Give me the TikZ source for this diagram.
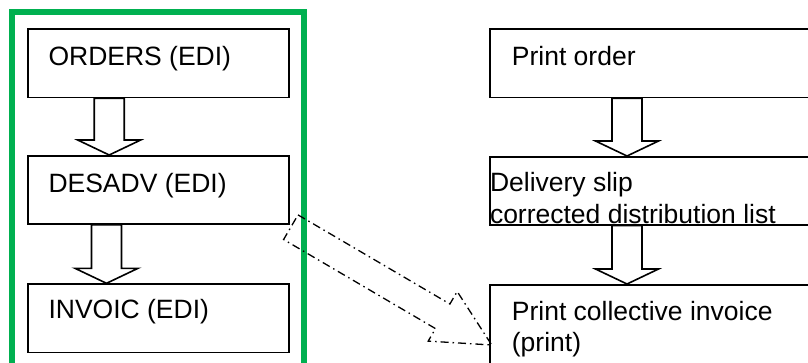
\documentclass[tikz,border=0pt]{standalone}
\usepackage{fontspec}
\setmainfont{Liberation Sans}
\usetikzlibrary{calc}
\definecolor{edigreen}{RGB}{0,176,80}
\tikzset{
  box/.style={draw=black, line width=1.6pt, fill=white, inner sep=0pt, anchor=north west, minimum width=#1},
  box/.default=261pt,
  txt/.style={inner sep=0pt, anchor=base west, font=\fontsize{26.5pt}{31pt}\selectfont},
  blk/.style={draw=black, line width=1.6pt, fill=white, line join=miter},
  dd/.style={draw=black, line width=1.3pt, dash pattern=on 8pt off 4pt on 1.5pt off 4pt}
}
\newcommand\blkarrow[3]{%
  \draw[blk] let \p1=(#2.south), \p2=(#3.north) in
    (#1pt-15pt,\y1) -- (#1pt-15pt,\y2+15pt) -- (#1pt-31.5pt,\y2+15pt) -- (#1pt,\y2)
    -- (#1pt+31.5pt,\y2+15pt) -- (#1pt+15pt,\y2+15pt) -- (#1pt+15pt,\y1) -- cycle;}
\begin{document}
\begin{tikzpicture}[x=1pt,y=-1pt]
\useasboundingbox (0,0) rectangle (808,362);
\clip (0,0) rectangle (808,362);
\fill[white] (0,0) rectangle (808,362);
% green frame
\draw[edigreen, line width=6pt] (11.7,400) -- (11.7,11.7) -- (303.7,11.7) -- (303.7,400);
% left boxes
\node[box, minimum height=68.4pt] (o) at (27.3,28.3) {};
\node[box, minimum height=68.3pt] (d) at (27.3,155) {};
\node[box, minimum height=68.4pt] (i) at (27.3,283.3) {};
\node[txt] at ($(o.north west)+(21,36.7)$) {ORDERS (EDI)};
\node[txt] at ($(d.north west)+(21,37.7)$) {DESADV (EDI)};
\node[txt] at ($(i.north west)+(21,35)$) {INVOIC (EDI)};
% right boxes
\node[box=360pt, minimum height=68.4pt] (po) at (489.3,28.3) {};
\node[box=360pt, minimum height=68pt] (dl) at (489.3,156) {};
\node[box=360pt, minimum height=120pt] (pc) at (489.3,284) {};
\node[txt] at ($(po.north west)+(22.4,36.7)$) {Print order};
\node[txt] at ($(dl.north west)+(0.5,35)$) {Delivery slip};
\node[txt] at ($(dl.north west)+(0.5,67)$) {corrected distribution list};
\node[txt] at ($(pc.north west)+(22.4,36)$) {Print collective invoice};
\node[txt] at ($(pc.north west)+(22.4,67)$) {(print)};
% block arrows
\blkarrow{109.2}{o}{d}
\blkarrow{106.5}{d}{i}
\blkarrow{627}{po}{dl}
\blkarrow{627}{dl}{pc}
% dash-dot hollow arrow from DESADV to collective invoice
\coordinate (t1) at (298.0,214.9);
\coordinate (t2) at (283.6,239.5);
\coordinate (tip) at (491.7,345);
\draw[dd] (t1) -- (449.9,304.0) -- (457.2,291.5) -- (tip) -- (428.2,341.1) -- (435.5,328.6) -- (t2) -- cycle;
\end{tikzpicture}
\end{document}
